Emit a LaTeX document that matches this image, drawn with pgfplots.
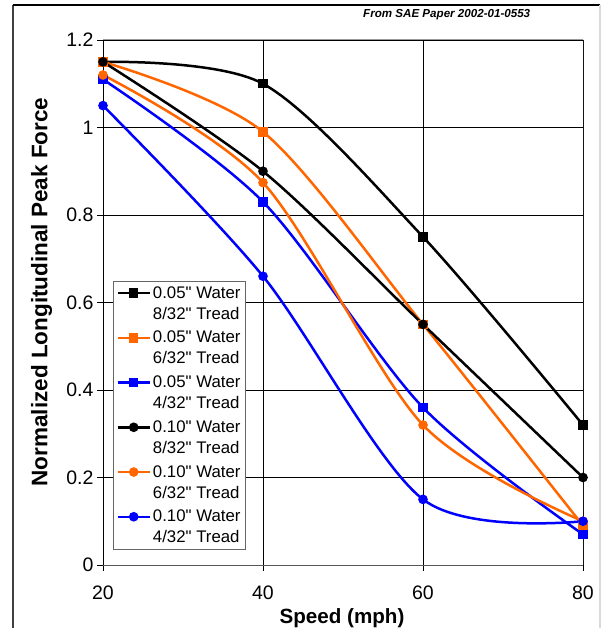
\documentclass[border=0pt]{standalone}
\usepackage{pgfplots}
\pgfplotsset{compat=1.18}
\usepackage{fontspec}
\setmainfont{Liberation Sans}[Ligatures=TeXOff]
\definecolor{xorange}{RGB}{255,102,0}
\definecolor{xblue}{RGB}{0,0,255}
\begin{document}
\begin{tikzpicture}[x=1pt,y=1pt]
\useasboundingbox (-103,-63) rectangle (500,565);
\draw[line width=1.8pt, black!75] (-90,-70) -- (-90,560);
\draw[line width=1.2pt] (-90,560) -- (497,560);
\draw[line width=1.2pt, black!15] (497,560) -- (497,-70);
\node[anchor=base west, inner sep=0pt, font=\fontsize{11.6}{14}\selectfont\bfseries\itshape] at (260,547) {From SAE Paper 2002-01-0553};
\begin{axis}[
  at={(0,0)}, anchor=south west,
  width=480pt, height=525pt, scale only axis,
  xmin=20, xmax=80, ymin=0, ymax=1.2,
  xtick={20,40,60,80}, ytick={0,0.2,0.4,0.6,0.8,1,1.2},
  xtick pos=lower, ytick pos=left,
  tick align=outside, major tick length=6pt,
  tick style={black, line width=0.8pt},
  grid=major, major grid style={black, line width=0.8pt},
  axis line style={draw=none},
  tick label style={font=\fontsize{19.5}{23}\selectfont},
  xticklabel style={yshift=-11pt},
  /pgf/number format/assume math mode=true,
  yticklabel style={/pgf/number format/fixed},
  xlabel={\bfseries Speed (mph)},
  ylabel={\bfseries Normalized Longitudinal Peak Force},
  xlabel style={font=\fontsize{20.6}{24}\selectfont, at={(axis description cs:0.498,-0.1105)}, anchor=base},
  ylabel style={font=\fontsize{22.5}{26}\selectfont, at={(axis description cs:-0.128,0.52)}, anchor=center, rotate=0},
  legend style={at={(0.021,0.029)}, anchor=south west, draw=black!60, line width=0.8pt,
    font=\fontsize{16.8}{21}\selectfont, cells={anchor=west, align=left},
    inner sep=3pt, row sep=6.5pt},
  legend image code/.code={\draw[mark repeat=2,mark phase=2,#1] plot coordinates {(0pt,10.5pt)(16pt,10.5pt)(32pt,10.5pt)};},
  every axis plot/.append style={line width=2.5pt, smooth, tension=0.5, mark size=3.5pt, mark options={solid}},
]
\draw[black!65, line width=1pt] (rel axis cs:0,0) -- (rel axis cs:1,0);
\draw[black!40, line width=1pt] (rel axis cs:0,1) -- (rel axis cs:1,1) -- (rel axis cs:1,0);
\draw[black, line width=1pt] (rel axis cs:0,0) -- (rel axis cs:0,1);
\addplot[black, mark=square*] coordinates {(20,1.15)(40,1.10)(60,0.75)(80,0.32)};
\addlegendentry{0.05" Water\\8/32" Tread}
\addplot[xorange, mark=square*] coordinates {(20,1.15)(40,0.99)(60,0.55)(80,0.09)};
\addlegendentry{0.05" Water\\6/32" Tread}
\addplot[xblue, mark=square*] coordinates {(20,1.11)(40,0.83)(60,0.36)(80,0.07)};
\addlegendentry{0.05" Water\\4/32" Tread}
\addplot[black, mark=*] coordinates {(20,1.15)(40,0.90)(60,0.55)(80,0.20)};
\addlegendentry{0.10" Water\\8/32" Tread}
\addplot[xorange, mark=*] coordinates {(20,1.12)(40,0.874)(60,0.32)(80,0.10)};
\addlegendentry{0.10" Water\\6/32" Tread}
\addplot[xblue, mark=*] coordinates {(20,1.05)(40,0.66)(60,0.15)(80,0.10)};
\addlegendentry{0.10" Water\\4/32" Tread}
\end{axis}
\end{tikzpicture}
\end{document}
